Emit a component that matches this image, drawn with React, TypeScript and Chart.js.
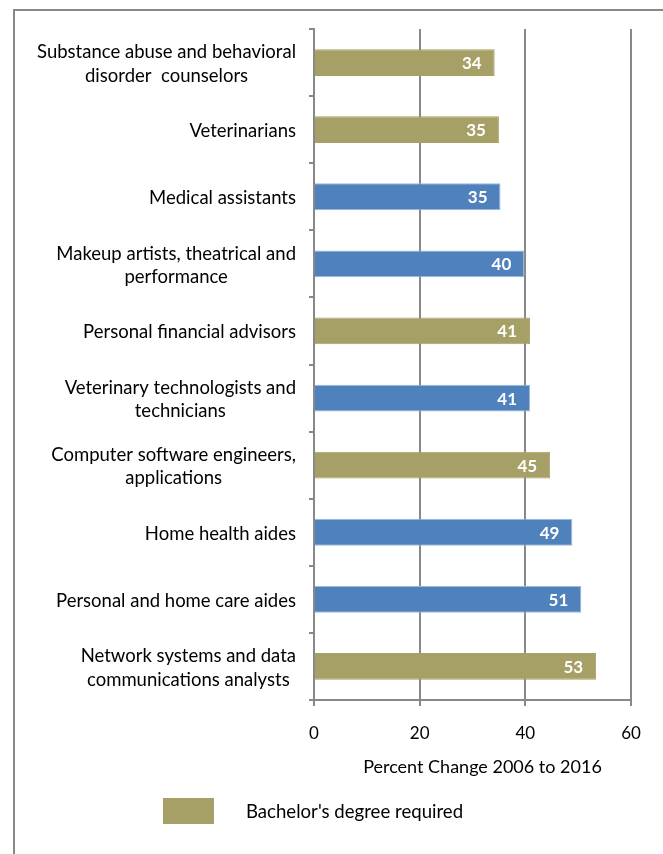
import React, { useEffect, useRef } from "react";
import { Chart, registerables } from "chart.js";

Chart.register(...registerables);

const categories: string[][] = [
  ["Substance abuse and behavioral", "disorder  counselors"],
  ["Veterinarians"],
  ["Medical assistants"],
  ["Makeup artists, theatrical and", "performance"],
  ["Personal financial advisors"],
  ["Veterinary technologists and", "technicians"],
  ["Computer software engineers,", "applications"],
  ["Home health aides"],
  ["Personal and home care aides"],
  ["Network systems and data", "communications analysts"],
];
const values: number[] = [34.2, 35.0, 35.3, 39.8, 40.9, 40.9, 44.7, 48.9, 50.6, 53.4];
const bachelorRequired: boolean[] = [true, true, false, false, true, false, true, false, false, true];
const xTicks: number[] = [0, 20, 40, 60];
const axisTitle = "Percent Change 2006 to 2016";
const legendLabel = "Bachelor's degree required";

const OLIVE = "#A6A066";
const BLUE = "#4F81BD";
const GRID = "#888888";
const FONT = "Lato, 'Liberation Sans', sans-serif";

export default function App() {
  const ref = useRef<HTMLCanvasElement>(null);

  useEffect(() => {
    if (!ref.current) return;
    const labelPlugin = {
      id: "wrappedLabels",
      afterDraw(chart: any) {
        const ctx = chart.ctx;
        const y = chart.scales.y;
        const x = chart.scales.x;
        ctx.save();
        ctx.font = `18.5px ${FONT}`;
        ctx.fillStyle = "#000";
        ctx.textAlign = "center";
        ctx.textBaseline = "middle";
        const lh = 23.3;
        const rightEdge = y.right - 18;
        categories.forEach((lines, i) => {
          const cy = y.getPixelForTick(i) + 1.5;
          const w = Math.max(...lines.map((l) => ctx.measureText(l).width));
          const cx = rightEdge - w / 2;
          lines.forEach((l, j) => ctx.fillText(l, cx, cy + (j - (lines.length - 1) / 2) * lh));
        });
        // axis title
        ctx.font = `18px ${FONT}`;
        ctx.fillText(axisTitle, (x.left + x.right) / 2 + 10, x.top + 67);
        ctx.restore();
      },
    };
    const valuePlugin = {
      id: "valueLabels",
      afterDatasetsDraw(chart: any) {
        const ctx = chart.ctx;
        const meta = chart.getDatasetMeta(0);
        ctx.save();
        ctx.font = `bold 17px ${FONT}`;
        ctx.fillStyle = "#fff";
        ctx.textAlign = "right";
        ctx.textBaseline = "middle";
        meta.data.forEach((bar: any, i: number) => {
          ctx.fillText(String(Math.round(values[i])), bar.x - 13, bar.y + 1);
        });
        ctx.restore();
      },
    };

    const chart = new Chart(ref.current, {
      type: "bar",
      data: {
        labels: categories,
        datasets: [
          {
            data: values,
            backgroundColor: bachelorRequired.map((b) => (b ? OLIVE : BLUE)),
            borderColor: bachelorRequired.map((b) => (b ? OLIVE : "#9DB9DC")),
            borderWidth: 1,
            barPercentage: 0.4,
            categoryPercentage: 1,
          },
        ],
      },
      options: {
        indexAxis: "y",
        responsive: false,
        maintainAspectRatio: false,
        animation: false,
        layout: { padding: { top: 29, right: 32, left: 0, bottom: 0 } },
        plugins: { legend: { display: false }, tooltip: { enabled: false } },
        scales: {
          x: {
            min: 0,
            max: 60,
            afterBuildTicks: (s: any) => {
              s.ticks = xTicks.map((v) => ({ value: v }));
            },
            ticks: { color: "#000", font: { family: FONT, size: 17 }, padding: 17 },
            grid: { color: GRID, lineWidth: 2, tickLength: 6 },
            border: { color: GRID, width: 2 },
            afterFit: (s: any) => {
              s.height = 154;
            },
          },
          y: {
            ticks: { display: false },
            grid: { drawOnChartArea: false, color: GRID, lineWidth: 2, tickLength: 5 },
            border: { color: GRID, width: 2 },
            afterFit: (s: any) => {
              s.width = 314;
            },
          },
        },
      },
      plugins: [labelPlugin, valuePlugin],
    } as any);
    return () => chart.destroy();
  }, []);

  return (
    <div
      style={{
        position: "absolute",
        left: 0,
        top: 0,
        width: 663,
        height: 854,
        overflow: "hidden",
        background: "#fff",
      }}
    >
      <canvas ref={ref} width={663} height={854} style={{ display: "block" }} />
      <div
        style={{
          position: "absolute",
          left: 13,
          top: 9,
          width: 800,
          height: 900,
          border: `2px solid ${GRID}`,
          pointerEvents: "none",
        }}
      />
      <div
        style={{
          position: "absolute",
          left: 163,
          top: 798,
          width: 51,
          height: 26,
          background: OLIVE,
        }}
      />
      <div
        style={{
          position: "absolute",
          left: 246,
          top: 800,
          height: 22,
          lineHeight: "22px",
          fontFamily: FONT,
          fontSize: 18.6,
          color: "#000",
          whiteSpace: "nowrap",
        }}
      >
        {legendLabel}
      </div>
    </div>
  );
}
